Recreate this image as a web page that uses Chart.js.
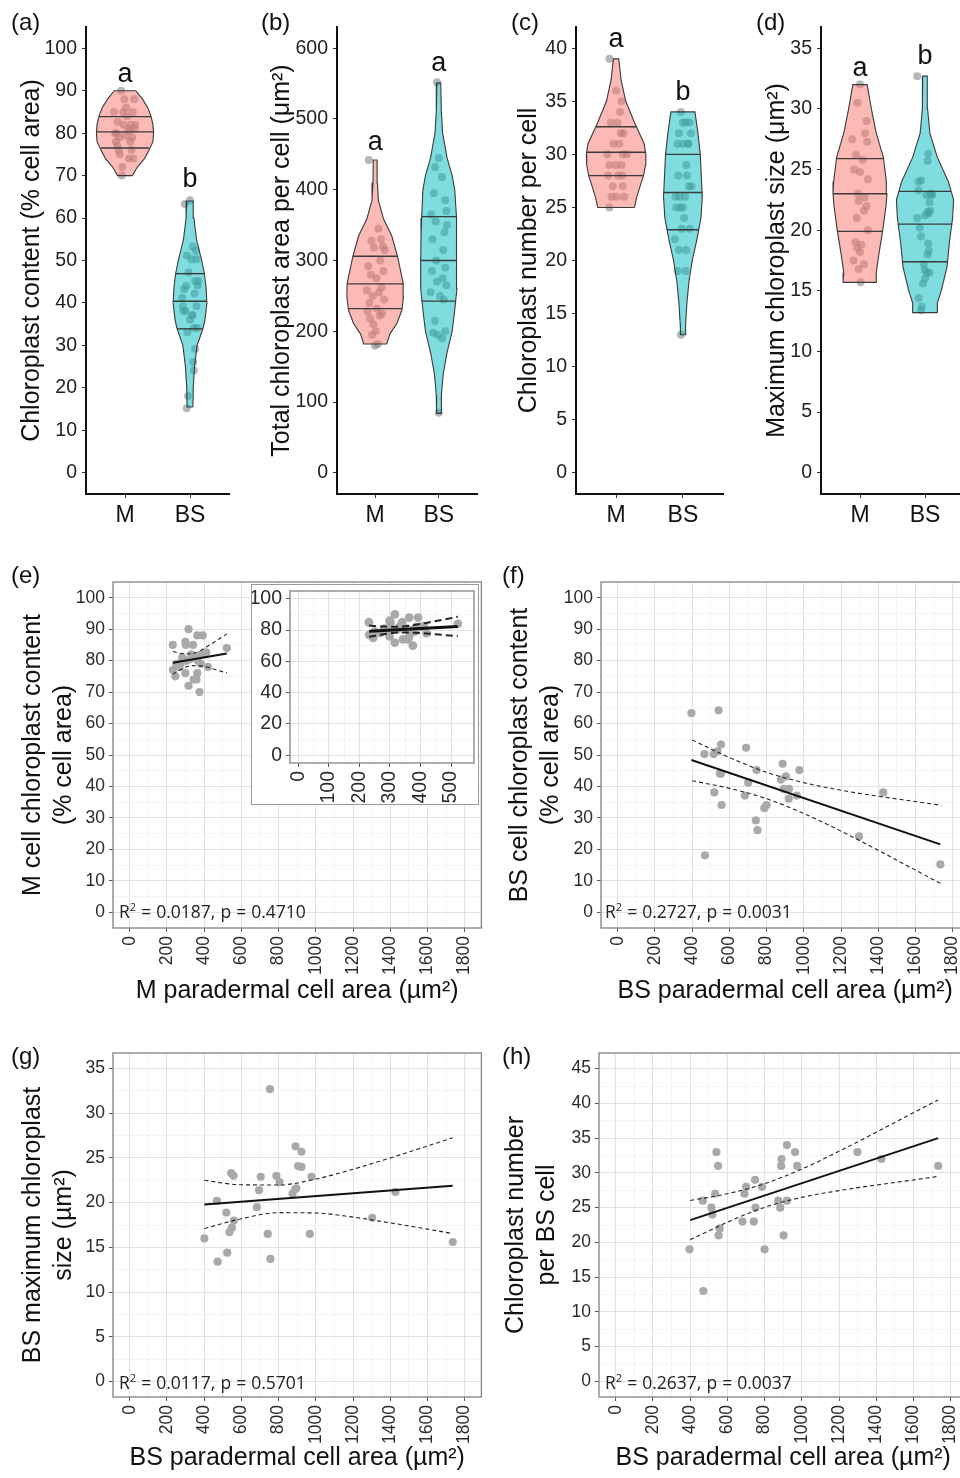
<!DOCTYPE html>
<html>
<head>
<meta charset="utf-8">
<script src="https://cdn.jsdelivr.net/npm/chart.js@4.4.1/dist/chart.umd.min.js"></script>
<style>
html,body{margin:0;padding:0;background:#fff;overflow:hidden}
#fig{position:relative;width:960px;height:1478px;overflow:hidden;font-family:"Liberation Sans",Arial,sans-serif}
#fig canvas{position:absolute}
.tag{position:absolute;font-size:24px;line-height:26px;color:#111;z-index:5}
.stat{position:absolute;font-family:"Open Sans",sans-serif;font-size:17.5px;line-height:20px;color:#222;white-space:nowrap;z-index:5;word-spacing:0.5px}
.stat sup{font-size:11px;vertical-align:7px;line-height:0}
.inset-box{position:absolute;left:251px;top:584px;width:226px;height:219px;border:1.5px solid #9a9a9a;background:#fff}
</style>
</head>
<body>
<div id="fig">
  <div class="tag" style="left:11px;top:9px">(a)</div>
  <div class="tag" style="left:261px;top:9px">(b)</div>
  <div class="tag" style="left:511px;top:9px">(c)</div>
  <div class="tag" style="left:756px;top:9px">(d)</div>
  <div class="tag" style="left:11px;top:562px">(e)</div>
  <div class="tag" style="left:502px;top:562px">(f)</div>
  <div class="tag" style="left:11px;top:1043px">(g)</div>
  <div class="tag" style="left:502px;top:1043px">(h)</div>
  <div class="stat" style="left:119px;top:901px">R<sup>2</sup> = 0.0187, p = 0.4710</div>
  <div class="stat" style="left:605px;top:901px">R<sup>2</sup> = 0.2727, p = 0.0031</div>
  <div class="stat" style="left:119px;top:1372px">R<sup>2</sup> = 0.0117, p = 0.5701</div>
  <div class="stat" style="left:605px;top:1372px">R<sup>2</sup> = 0.2637, p = 0.0037</div>
</div>
<script>
// cell types on the violin x axes
const groups = ['M', 'BS'];

// ---- (e) M cells: area vs chloroplast content ----
const mArea    = [231,316,299,302,340,363,392,232,245,282,304,299,316,343,359,363,375,381,400,420,522,268,331,354,250,277,386,411,325,367];
const mContent = [85,90,86,85,85,88,88,77,75,81,80,76,72,74,74,76,70,79,82,78,84,78,82,81,79,79.4,82,82.6,80.5,80];
const mFitX = [232, 522];
const mFitY = [79.3, 82.3];
const mCiX  = [232, 280, 330, 380, 430, 480, 522];
const mCiUp = [82.9, 82.25, 82.2, 83.25, 85.0, 86.9, 88.5];
const mCiLo = [75.7, 77.35, 78.4, 78.35, 77.7, 76.8, 76.1];

// ---- (f) BS cells: area vs chloroplast content ----
const bsAreaF   = [396,542,466,516,535,555,549,555,519,558,690,701,683,746,742,751,788,800,886,877,904,892,920,919,963,976,469,1297,1427,1734];
const bsContent = [63.3,64.2,50.3,50.3,51.2,53.3,44.1,44,38.1,34.1,52.3,41.2,37.1,45.2,29.2,26.1,33.1,34.1,47.2,42.2,43.2,39.2,39.2,36.1,37.1,45.2,18.1,24.1,38.1,15.2];
const fFitX = [396, 1734];
const fFitY = [48.4, 21.6];
const fCiX  = [400, 600, 800, 1000, 1200, 1400, 1600, 1740];
const fCiUp = [54.8, 49.2, 44.5, 41.2, 38.8, 36.9, 35.2, 34.0];
const fCiLo = [41.8, 39.4, 36.1, 31.4, 25.8, 19.7, 13.4, 9.0];

// ---- (g) BS cells: area vs maximum chloroplast size ----
const bsAreaG   = [401,472,469,519,524,545,558,536,549,560,704,695,683,742,756,754,788,805,875,889,891,905,923,923,977,968,895,1303,1428,1736];
const bsMaxSize = [16.0,13.4,20.2,18.9,14.4,23.3,23.0,16.7,17.2,18.0,22.9,21.4,19.5,16.5,13.7,32.7,23.0,22.3,21.0,21.5,26.3,24.1,24.0,25.7,22.9,16.5,21.6,18.3,21.2,15.6];
const gFitX = [401, 1736];
const gFitY = [19.8, 21.9];
const gCiX  = [401, 600, 800, 1000, 1200, 1400, 1600, 1736];
const gCiUp = [22.5, 22.0, 21.98, 22.64, 23.74, 25.0, 26.34, 27.26];
const gCiLo = [17.1, 18.2, 18.88, 18.84, 18.38, 17.74, 17.04, 16.54];

// ---- (h) BS cells: area vs chloroplast number ----
const bsAreaH  = [397,468,471,514,519,534,541,550,559,553,681,692,701,749,742,751,786,800,873,884,889,891,902,920,920,964,975,1299,1428,1733];
const bsNumber = [19,26,13,25,24,27,33,31,22,21,23,27,28,29,23,25,28,19,26,25,31,32,21,26,34,33,31,33,32,31];
const hFitX = [400, 1733];
const hFitY = [23.2, 35.0];
const hCiX  = [400, 600, 800, 1000, 1200, 1400, 1600, 1733];
const hCiUp = [26.03, 27.0, 28.44, 30.55, 33.1, 35.85, 38.66, 40.5];
const hCiLo = [20.37, 22.9, 25.04, 26.47, 27.45, 28.25, 28.98, 29.5];

// ---- M values only shown in the violins ----
const mTotalArea  = [442,345,330,328,320,318,315,300,292,285,280,275,262,258,255,250,245,240,232,228,225,222,218,210,200,195,182,180];
const bsTotalArea = [552,445,432,418,395,385,370,365,355,350,340,330,315,300,290,285,275,270,265,255,250,245,215,200,198,195,190,85];
const mNumber  = [39,36,35,34,33,33,32,32,31,31,30,30,30,29,29,29,28,28,28,27,27,26,26,26,25];
const mMaxSize = [32,30.5,29,28,27.5,27.3,26.2,25.8,25,24.8,24.2,23,22.7,22.4,22,21.6,21,20,19,18.8,18.5,18.2,17.5,17.2,16.8,15.7];

// horizontal jitter of the dots (category units)
const jitContentM  = [-0.17,-0.06,0.02,-0.03,0.12,-0.01,0.14,-0.12,-0.08,0.05,-0.15,0.1,-0.04,0.06,0.13,-0.1,-0.05,0.11,0.16,-0.14,0.03,0.08,-0.02,0.15,-0.09,0.0,0.09,-0.11,0.07,-0.13];
const jitContentBS = [-0.08,0.0,0.02,0.1,-0.05,0.04,0.12,-0.06,-0.1,0.06,0.09,-0.12,0.03,0.13,0.08,0.05,-0.04,0.11,-0.02,0.07,-0.09,0.1,-0.11,0.0,0.04,0.08,-0.03,0.06,-0.07,-0.05];
const jitAreaM  = [-0.1,0.05,0.09,-0.06,0.12,-0.02,0.15,0.08,-0.11,0.13,-0.07,0.02,0.1,-0.13,0.06,-0.04,0.14,-0.09,0.03,-0.12,0.11,0.07,-0.08,-0.03,0.01,-0.05,0.04,0.0];
const jitAreaBS = [-0.03,0.0,-0.06,0.05,-0.08,0.1,0.12,-0.12,-0.05,0.13,0.09,-0.1,0.07,-0.04,0.1,-0.11,0.06,-0.03,0.12,-0.13,0.02,0.08,-0.06,0.1,-0.09,-0.02,0.05,0.0];
const jitNumberM  = [-0.1,0.0,0.08,0.06,-0.08,0.02,0.07,0.11,-0.04,0.05,-0.13,0.1,0.16,-0.1,0.0,0.08,-0.12,0.03,0.09,-0.05,0.1,-0.07,0.01,0.12,-0.1];
const jitNumberBS = [-0.08,-0.05,-0.03,0.0,0.02,0.13,0.0,-0.08,-0.12,-0.06,0.1,0.09,-0.07,0.05,-0.02,-0.1,0.06,0.04,0.03,-0.04,0.08,0.12,0.05,-0.11,-0.03,0.04,0.0,0.1,-0.06,0.08];
const jitSizeM  = [0.0,-0.04,0.1,0.08,-0.12,0.11,-0.06,0.04,-0.09,0.0,0.12,-0.03,0.07,-0.02,0.1,0.06,-0.05,0.12,-0.07,0.02,-0.04,0.0,-0.1,0.06,-0.02,0.01];
const jitSizeBS = [0.0,-0.06,-0.08,0.05,-0.1,-0.1,0.08,0.0,-0.02,0.04,0.11,0.06,-0.06,0.03,-0.05,-0.12,0.1,0.07,-0.12,0.04,0.05,-0.06,-0.1,0.04,0.02,0.07,0.08,0.06,0.0,-0.03];

// violin outlines: [y, half width in category units], bottom to top
const profContentM  = [[70,0.115],[72,0.19],[74,0.30],[76,0.37],[78,0.43],[80,0.44],[82,0.43],[84,0.40],[86,0.35],[88,0.27],[90,0.165]];
const profContentBS = [[15.5,0.045],[20,0.05],[25,0.07],[30,0.11],[34,0.20],[36,0.23],[40,0.26],[44,0.245],[47,0.22],[50,0.18],[55,0.10],[60,0.06],[64,0.05]];
const profAreaM  = [[182,0.18],[196,0.23],[211,0.34],[230,0.42],[249,0.445],[268,0.44],[306,0.35],[335,0.26],[359,0.13],[385,0.05],[410,0.035],[442,0.03]];
const profAreaBS = [[84,0.035],[110,0.04],[140,0.07],[170,0.13],[200,0.21],[230,0.25],[260,0.285],[300,0.285],[330,0.28],[360,0.27],[400,0.25],[420,0.21],[445,0.13],[480,0.06],[510,0.04],[551,0.03]];
const profNumberM  = [[25,0.275],[26,0.31],[27,0.36],[28,0.41],[29,0.44],[30,0.445],[31,0.42],[33,0.275],[35,0.145],[37,0.075],[39,0.04]];
const profNumberBS = [[13,0.037],[14,0.04],[16,0.06],[18,0.09],[20,0.14],[22,0.21],[24,0.27],[26,0.29],[28,0.275],[30,0.26],[32,0.225],[34,0.18]];
const profSizeM  = [[15.7,0.26],[16.5,0.25],[18,0.29],[20,0.35],[22,0.40],[23,0.415],[24,0.405],[26,0.36],[28,0.25],[30,0.175],[32,0.11]];
const profSizeBS = [[13.2,0.19],[14,0.19],[15,0.25],[17,0.34],[19,0.375],[21,0.425],[22.5,0.44],[24,0.36],[26,0.19],[28,0.075],[30,0.04],[32.7,0.035]];

// quartile lines: [y, half width]
const quartContentM  = [[76.5,0.37],[80.3,0.44],[83.9,0.40]];
const quartContentBS = [[33.9,0.20],[40.4,0.26],[46.9,0.22]];
const quartAreaM  = [[232,0.42],[267,0.44],[306,0.35]];
const quartAreaBS = [[242.6,0.27],[300,0.285],[362,0.27]];
const quartNumberM  = [[28.0,0.41],[30.2,0.445],[32.6,0.30]];
const quartNumberBS = [[22.9,0.24],[26.4,0.29],[30.0,0.26]];
const quartSizeM  = [[19.9,0.35],[23.0,0.415],[25.9,0.36]];
const quartSizeBS = [[17.4,0.35],[20.5,0.42],[23.2,0.40]];

// tick labels
const ticksContent = [0,10,20,30,40,50,60,70,80,90,100];
const ticksArea    = [0,100,200,300,400,500,600];
const ticksNumber  = [0,5,10,15,20,25,30,35,40];
const ticksSize    = [0,5,10,15,20,25,30,35];
const ticksCellArea = [0,200,400,600,800,1000,1200,1400,1600,1800];
const ticksNumberBS = [0,5,10,15,20,25,30,35,40,45];
const ticksInsetX = [0,100,200,300,400,500];
const ticksInsetY = [0,20,40,60,80,100];

const PINK = 'rgba(248,118,109,0.5)';
const TEAL = 'rgba(0,186,192,0.5)';

Chart.defaults.font.family = '"Liberation Sans", Arial, sans-serif';
Chart.defaults.color = '#222';
Chart.defaults.animation = false;
Chart.defaults.responsive = false;
Chart.defaults.devicePixelRatio = 1;
Chart.defaults.plugins.legend.display = false;
Chart.defaults.plugins.tooltip.enabled = false;

const panelBox = {
  id: 'panelBox',
  afterDraw(chart, args, opts) {
    if (!opts.color) return;
    const {ctx, chartArea: a} = chart;
    ctx.save();
    ctx.strokeStyle = opts.color;
    ctx.lineWidth = opts.width;
    ctx.strokeRect(a.left, a.top, a.right - a.left, a.bottom - a.top);
    ctx.restore();
  }
};
const sigLetters = {
  id: 'sigLetters',
  afterDatasetsDraw(chart, args, opts) {
    if (!opts.items) return;
    const {ctx, scales: {x, y}} = chart;
    ctx.save();
    ctx.font = '27px "Liberation Sans", Arial, sans-serif';
    ctx.fillStyle = '#111';
    ctx.textAlign = 'center';
    ctx.textBaseline = 'middle';
    opts.items.forEach(it => ctx.fillText(it.text, x.getPixelForValue(it.x), y.getPixelForValue(it.y)));
    ctx.restore();
  }
};
Chart.register(panelBox, sigLetters);

const fig = document.getElementById('fig');
function placeCanvas(area, m){
  const c = document.createElement('canvas');
  c.width = area.r - area.l + m.l + m.r;
  c.height = area.b - area.t + m.t + m.b;
  c.style.left = (area.l - m.l) + 'px';
  c.style.top = (area.t - m.t) + 'px';
  fig.appendChild(c);
  return c;
}
function outline(c, prof){
  const right = prof.map(([y, w]) => ({x: c + w, y}));
  const left = prof.slice().reverse().map(([y, w]) => ({x: c - w, y}));
  return right.concat(left, [right[0]]);
}
function withMinor(major){
  const out = [];
  major.forEach((v, i) => { out.push(v); if (i < major.length - 1) out.push((v + major[i + 1]) / 2); });
  return out;
}

function violinChart(p){
  const canvas = placeCanvas(p.area, p.m);
  const datasets = [];
  p.groups.forEach((g, gi) => {
    const c = gi + 1;
    datasets.push({
      data: g.values.map((v, i) => ({x: c + g.jitter[i], y: v})),
      showLine: false, pointRadius: 4, pointBorderWidth: 0,
      pointBackgroundColor: 'rgba(135,135,135,0.6)', order: 3
    });
    datasets.push({
      data: outline(c, g.profile), fill: 'shape', backgroundColor: g.fill,
      borderColor: '#3b3b3b', borderWidth: 1.1, pointRadius: 0, tension: 0, order: 2
    });
    g.quart.forEach(([q, w]) => datasets.push({
      data: [{x: c - w, y: q}, {x: c + w, y: q}],
      borderColor: '#3b3b3b', borderWidth: 1.4, pointRadius: 0, fill: false, order: 1
    }));
  });
  new Chart(canvas, {
    type: 'line',
    data: {datasets},
    options: {
      layout: {padding: {top: p.m.t, right: p.m.r, left: 0, bottom: 0}},
      scales: {
        x: {
          type: 'linear', min: 0.4, max: 2.6, bounds: 'data',
          afterBuildTicks: ax => { ax.ticks = groups.map((g, i) => ({value: i + 1})); },
          afterFit: ax => { ax.height = p.m.b; },
          ticks: {autoSkip: false, maxRotation: 0, padding: 4, color: '#111', font: {size: 23}, callback: v => groups[Math.round(v) - 1]},
          grid: {display: true, drawOnChartArea: false, drawTicks: true, tickLength: 4, tickColor: '#333'},
          border: {display: true, color: '#111', width: 2}
        },
        y: {
          type: 'linear', min: p.yMin, max: p.yMax, bounds: 'data',
          afterBuildTicks: ax => { ax.ticks = p.yTicks.map(v => ({value: v})); },
          afterFit: ax => { ax.width = p.m.l; },
          ticks: {autoSkip: false, padding: 5, color: '#222', font: {size: 19.5}},
          grid: {display: true, drawOnChartArea: false, drawTicks: true, tickLength: 4, tickColor: '#333'},
          border: {display: true, color: '#111', width: 2},
          title: {display: true, text: p.title, color: '#111', font: {size: 25}, padding: 0}
        }
      },
      plugins: {sigLetters: {items: p.letters}}
    }
  });
}

function scatterChart(p){
  const canvas = placeCanvas(p.area, p.m);
  const pts = (xs, ys) => xs.map((x, i) => ({x, y: ys[i]}));
  const dashed = {borderColor: '#222', borderWidth: p.dashW, borderDash: p.dash, pointRadius: 0, cubicInterpolationMode: 'monotone', fill: false, order: 2};
  const datasets = [
    {data: pts(p.xs, p.ys), showLine: false, pointRadius: p.r, pointBorderWidth: 0, pointBackgroundColor: '#a9a9a9', order: 3},
    Object.assign({data: pts(p.ciX, p.ciUp)}, dashed),
    Object.assign({data: pts(p.ciX, p.ciLo)}, dashed),
    {data: pts(p.fitX, p.fitY), borderColor: '#111', borderWidth: p.lineW, pointRadius: 0, fill: false, order: 1}
  ];
  const axis = (major, min, max, size) => {
    const all = withMinor(major);
    const isMajor = v => major.includes(v);
    return {
      type: 'linear', min, max, bounds: 'data',
      afterBuildTicks: ax => { ax.ticks = all.map(v => ({value: v})); },
      ticks: {autoSkip: false, padding: 4, color: '#2b2b2b', font: {size}, callback: v => isMajor(v) ? String(v) : ''},
      grid: {
        color: c => isMajor(c.tick.value) ? '#e2e2e2' : '#efefef',
        lineWidth: c => isMajor(c.tick.value) ? 1 : 0.7,
        tickColor: c => isMajor(c.tick.value) ? '#555' : 'rgba(0,0,0,0)',
        tickLength: 4, drawTicks: true
      },
      border: {display: false}
    };
  };
  const x = axis(p.xMajor, p.xMin, p.xMax, p.tick);
  x.ticks.minRotation = 90; x.ticks.maxRotation = 90;
  x.afterFit = ax => { ax.height = p.m.b; };
  if (p.xTitle) x.title = {display: true, text: p.xTitle, color: '#111', font: {size: 25}, padding: 0};
  const y = axis(p.yMajor, p.yMin, p.yMax, p.tick);
  y.afterFit = ax => { ax.width = p.m.l; };
  if (p.yTitle) y.title = {display: true, text: p.yTitle, color: '#111', font: {size: 25, lineHeight: 1.25}, padding: 0};
  new Chart(canvas, {
    type: 'line',
    data: {datasets},
    options: {
      layout: {padding: {top: p.m.t, right: p.m.r, left: 0, bottom: 0}},
      scales: {x, y},
      plugins: {panelBox: {color: '#8a8a8a', width: 1.4}}
    }
  });
}

// ---- top row: violins ----
violinChart({
  area: {l: 86, r: 229, t: 27, b: 494}, m: {l: 69, r: 6, t: 27, b: 40},
  title: 'Chloroplast content (% cell area)', yMin: -5, yMax: 105, yTicks: ticksContent,
  groups: [
    {values: mContent, jitter: jitContentM, profile: profContentM, quart: quartContentM, fill: PINK},
    {values: bsContent, jitter: jitContentBS, profile: profContentBS, quart: quartContentBS, fill: TEAL}
  ],
  letters: [{x: 1, y: 93.7, text: 'a'}, {x: 2, y: 69, text: 'b'}]
});
violinChart({
  area: {l: 337, r: 477, t: 27, b: 494}, m: {l: 70, r: 6, t: 27, b: 40},
  title: 'Total chloroplast area per cell (μm²)', yMin: -30, yMax: 630, yTicks: ticksArea,
  groups: [
    {values: mTotalArea, jitter: jitAreaM, profile: profAreaM, quart: quartAreaM, fill: PINK},
    {values: bsTotalArea, jitter: jitAreaBS, profile: profAreaBS, quart: quartAreaBS, fill: TEAL}
  ],
  letters: [{x: 1, y: 466, text: 'a'}, {x: 2, y: 579, text: 'a'}]
});
violinChart({
  area: {l: 576, r: 723, t: 27, b: 494}, m: {l: 62, r: 6, t: 27, b: 40},
  title: 'Chloroplast number per cell', yMin: -2, yMax: 42, yTicks: ticksNumber,
  groups: [
    {values: mNumber, jitter: jitNumberM, profile: profNumberM, quart: quartNumberM, fill: PINK},
    {values: bsNumber, jitter: jitNumberBS, profile: profNumberBS, quart: quartNumberBS, fill: TEAL}
  ],
  letters: [{x: 1, y: 40.8, text: 'a'}, {x: 2, y: 35.8, text: 'b'}]
});
violinChart({
  area: {l: 821, r: 964, t: 27, b: 494}, m: {l: 59, r: 6, t: 27, b: 40},
  title: 'Maximum chloroplast size (μm²)', yMin: -1.75, yMax: 36.75, yTicks: ticksSize,
  groups: [
    {values: mMaxSize, jitter: jitSizeM, profile: profSizeM, quart: quartSizeM, fill: PINK},
    {values: bsMaxSize, jitter: jitSizeBS, profile: profSizeBS, quart: quartSizeBS, fill: TEAL}
  ],
  letters: [{x: 1, y: 33.3, text: 'a'}, {x: 2, y: 34.3, text: 'b'}]
});

// ---- regressions ----
const common = {xMajor: ticksCellArea, xMin: -90, xMax: 1890, tick: 17.5, r: 4.1, lineW: 2, dashW: 1.1, dash: [4, 3]};
scatterChart(Object.assign({}, common, {
  area: {l: 113, r: 482, t: 582, b: 928}, m: {l: 96, r: 8, t: 22, b: 78},
  xTitle: 'M paradermal cell area (µm²)', yTitle: ['M cell chloroplast content', '(% cell area)'],
  yMajor: ticksContent, yMin: -5, yMax: 105,
  xs: mArea, ys: mContent, fitX: mFitX, fitY: mFitY, ciX: mCiX, ciUp: mCiUp, ciLo: mCiLo
}));

// inset of (e): same data, zoomed x axis
const box = document.createElement('div');
box.className = 'inset-box';
fig.appendChild(box);
scatterChart({
  area: {l: 290, r: 476, t: 591, b: 763}, m: {l: 38, r: 3, t: 21, b: 42},
  xMajor: ticksInsetX, xMin: -27, xMax: 575, yMajor: ticksInsetY, yMin: -5, yMax: 105,
  tick: 19.5, r: 4.4, lineW: 3, dashW: 2, dash: [7, 4],
  xs: mArea, ys: mContent, fitX: mFitX, fitY: mFitY, ciX: mCiX, ciUp: mCiUp, ciLo: mCiLo
});

scatterChart(Object.assign({}, common, {
  area: {l: 601, r: 970, t: 582, b: 928}, m: {l: 97, r: 8, t: 22, b: 78},
  xTitle: 'BS paradermal cell area (µm²)', yTitle: ['BS cell chloroplast content', '(% cell area)'],
  yMajor: ticksContent, yMin: -5, yMax: 105,
  xs: bsAreaF, ys: bsContent, fitX: fFitX, fitY: fFitY, ciX: fCiX, ciUp: fCiUp, ciLo: fCiLo
}));
scatterChart(Object.assign({}, common, {
  area: {l: 113, r: 482, t: 1053, b: 1397}, m: {l: 96, r: 8, t: 22, b: 76},
  xTitle: 'BS paradermal cell area (µm²)', yTitle: ['BS maximum chloroplast', 'size (µm²)'],
  yMajor: ticksSize, yMin: -1.75, yMax: 36.75,
  xs: bsAreaG, ys: bsMaxSize, fitX: gFitX, fitY: gFitY, ciX: gCiX, ciUp: gCiUp, ciLo: gCiLo
}));
scatterChart(Object.assign({}, common, {
  area: {l: 599, r: 968, t: 1053, b: 1397}, m: {l: 99, r: 8, t: 22, b: 76},
  xTitle: 'BS paradermal cell area (µm²)', yTitle: ['Chloroplast number', 'per BS cell'],
  yMajor: ticksNumberBS, yMin: -2.25, yMax: 47.25,
  xs: bsAreaH, ys: bsNumber, fitX: hFitX, fitY: hFitY, ciX: hCiX, ciUp: hCiUp, ciLo: hCiLo
}));
</script>
</body>
</html>
